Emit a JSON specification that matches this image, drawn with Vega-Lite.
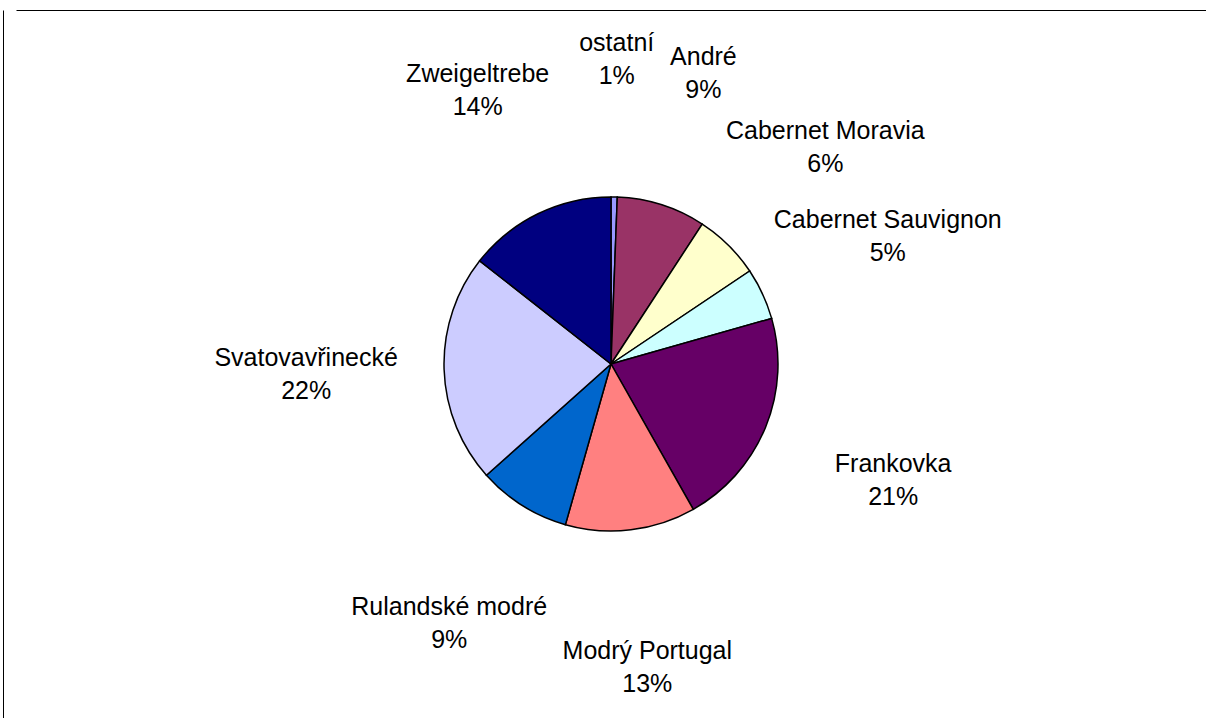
{
  "$schema": "https://vega.github.io/schema/vega-lite/v6.json",
  "width": 1190,
  "height": 708,
  "autosize": "none",
  "padding": {"left": 16, "top": 10, "right": 0, "bottom": 0},
  "background": "white",
  "view": {"stroke": null},
  "data": {
    "values": [
      {"variety": "ostatní", "share": 0.006, "order": 1},
      {"variety": "André", "share": 0.086, "order": 2},
      {"variety": "Cabernet Moravia", "share": 0.064, "order": 3},
      {"variety": "Cabernet Sauvignon", "share": 0.05, "order": 4},
      {"variety": "Frankovka", "share": 0.212, "order": 5},
      {"variety": "Modrý Portugal", "share": 0.126, "order": 6},
      {"variety": "Rulandské modré", "share": 0.09, "order": 7},
      {"variety": "Svatovavřinecké", "share": 0.222, "order": 8},
      {"variety": "Zweigeltrebe", "share": 0.144, "order": 9}
    ]
  },
  "layer": [
    {
      "mark": {"type": "point", "opacity": 0},
      "encoding": {
        "x": {"field": "share", "type": "quantitative", "axis": {"orient": "top", "domainColor": "black", "domainWidth": 1, "ticks": false, "labels": false, "grid": false, "title": null}},
        "y": {"field": "share", "type": "quantitative", "axis": {"orient": "left", "offset": 13, "domainColor": "black", "domainWidth": 1, "ticks": false, "labels": false, "grid": false, "title": null}}
      }
    },
    {
      "mark": {"type": "arc", "outerRadius": 167, "stroke": "black", "strokeWidth": 1.5},
      "encoding": {
        "theta": {"field": "share", "type": "quantitative", "stack": true},
        "order": {"field": "order", "type": "quantitative"},
        "color": {
          "field": "variety",
          "type": "nominal",
          "legend": null,
          "scale": {
            "domain": ["ostatní", "André", "Cabernet Moravia", "Cabernet Sauvignon", "Frankovka", "Modrý Portugal", "Rulandské modré", "Svatovavřinecké", "Zweigeltrebe"],
            "range": ["#9999FF", "#993366", "#FFFFCC", "#CCFFFF", "#660066", "#FF8080", "#0066CC", "#CCCCFF", "#000080"]
          }
        }
      }
    },
    {
      "mark": {"type": "text", "radius": 305, "dy": -16, "font": "Liberation Sans", "fontSize": 25, "color": "black"},
      "encoding": {
        "theta": {"field": "share", "type": "quantitative", "stack": true},
        "order": {"field": "order", "type": "quantitative"},
        "text": {"field": "variety", "type": "nominal"}
      }
    },
    {
      "mark": {"type": "text", "radius": 305, "dy": 17, "font": "Liberation Sans", "fontSize": 25, "color": "black"},
      "encoding": {
        "theta": {"field": "share", "type": "quantitative", "stack": true},
        "order": {"field": "order", "type": "quantitative"},
        "text": {"field": "share", "type": "quantitative", "format": ".0%"}
      }
    }
  ]
}
